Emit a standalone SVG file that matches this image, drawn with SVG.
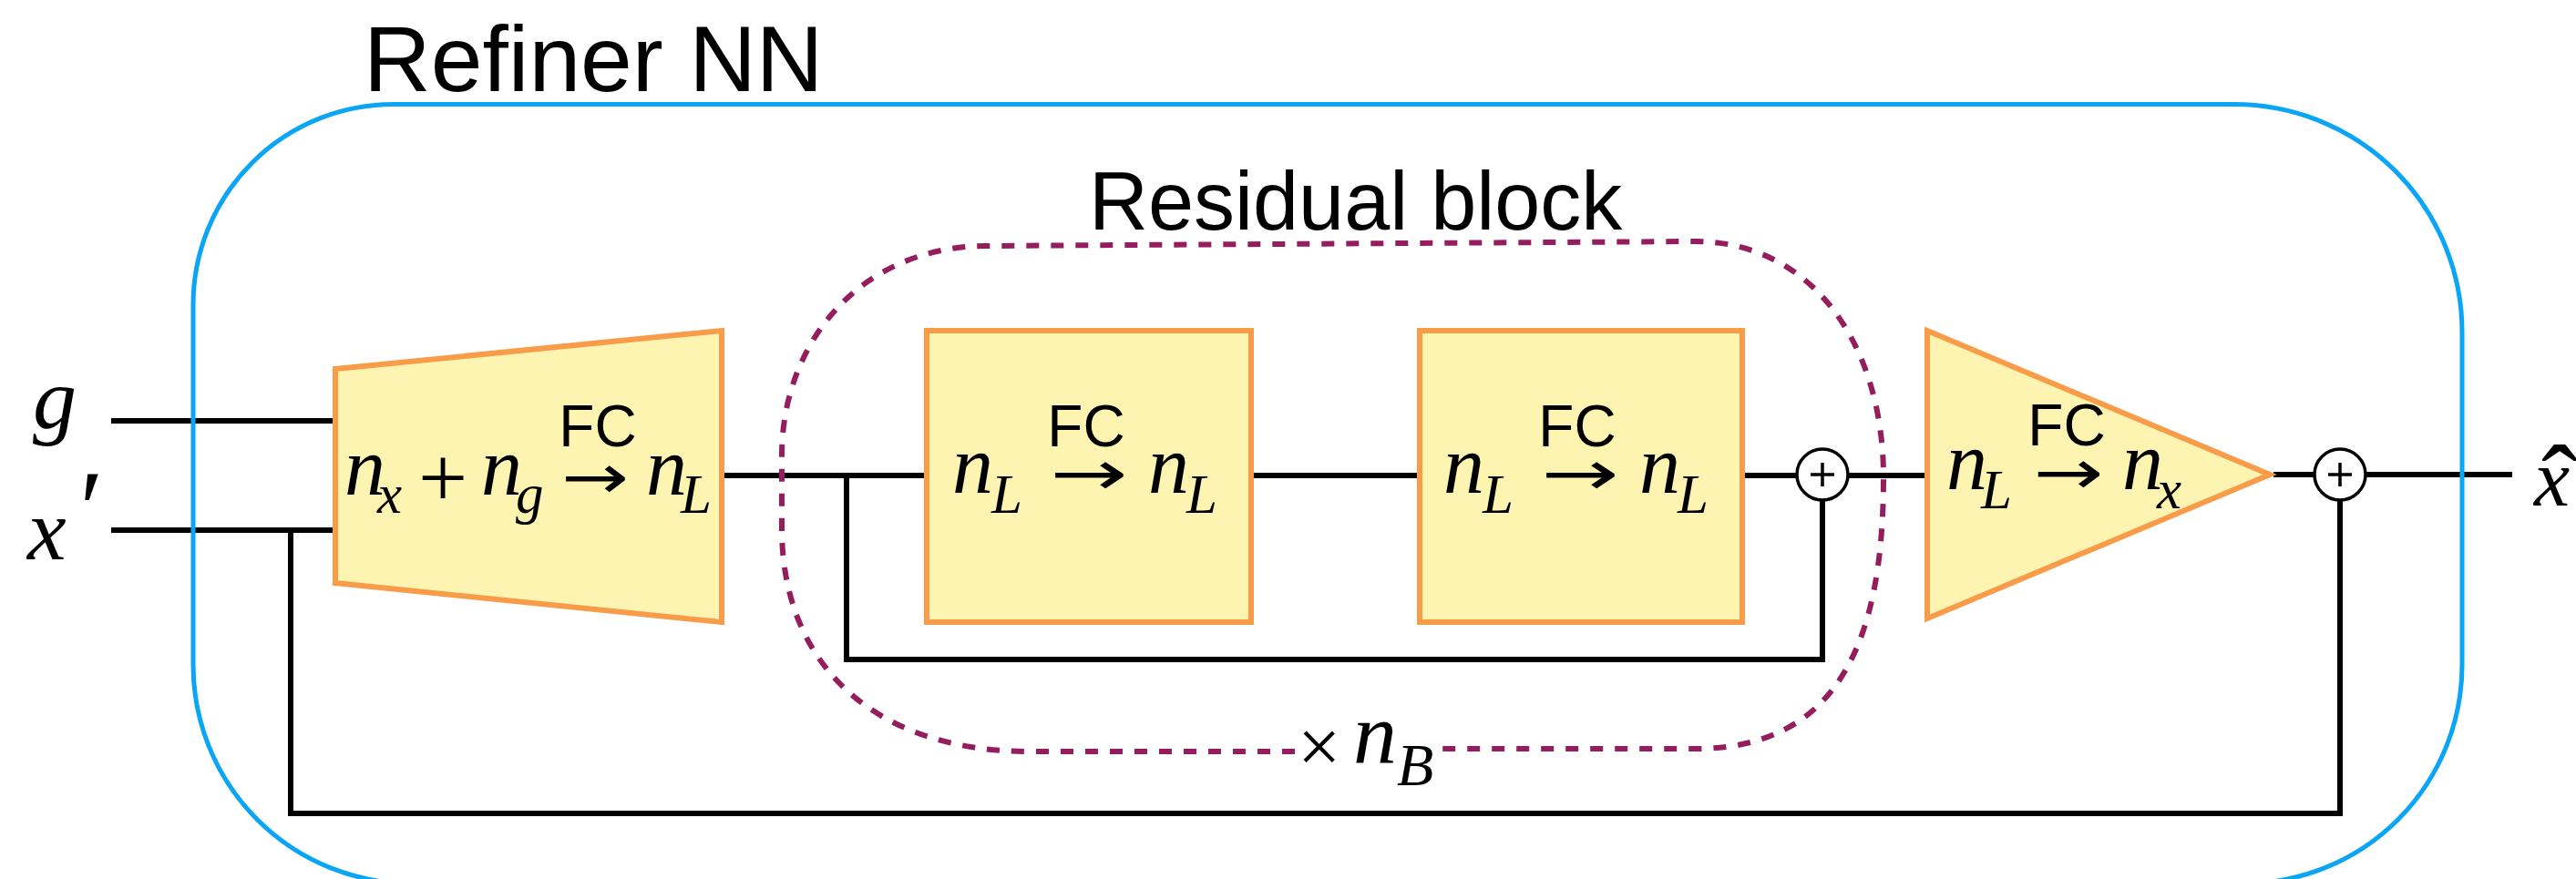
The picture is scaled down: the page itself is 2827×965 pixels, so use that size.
<svg xmlns="http://www.w3.org/2000/svg" width="2827" height="965" viewBox="0 0 2827 965">
<style>
.wire{fill:none;stroke:#000;stroke-width:6;stroke-linejoin:miter;stroke-linecap:butt}
.blk{fill:#FEF4B2;stroke:#F89C4A;stroke-width:6;stroke-linejoin:miter}
.sum{fill:#fff;stroke:#000;stroke-width:3.5}
.plus{stroke:#000;stroke-width:3.5}
.sans{font-family:"Liberation Sans",Arial,sans-serif;fill:#000}
.mi{font-family:"Liberation Serif","Times New Roman",serif;font-style:italic;fill:#000}
.up{font-family:"Liberation Serif","DejaVu Serif",serif;font-style:normal}
.fc{font-family:"Liberation Sans",Arial,sans-serif;font-style:normal;font-size:64px;text-anchor:middle}
.arr{font-family:"DejaVu Sans",sans-serif;font-size:68px;text-anchor:middle;fill:#000}
.m{font-size:90px}
.s{font-size:61px}
.dash{fill:none;stroke:#951C5D;stroke-width:6;stroke-dasharray:14 13}
</style>
<rect width="2827" height="965" fill="#fff"/>

<g id="connectors">
  <path class="wire" d="M122,462 H368"/>
  <path class="wire" d="M122,582 H368"/>
  <path class="wire" d="M319,582 V893 H2568 V549"/>
  <path class="wire" d="M792,522 H1016"/>
  <path class="wire" d="M929,522 V724 H2000 V549"/>
  <path class="wire" d="M1376,522 H1556"/>
  <path class="wire" d="M1915,522 H1972"/>
  <path class="wire" d="M2028,522 H2114"/>
  <path class="wire" d="M2495,521 H2540"/>
  <path class="wire" d="M2596,521 H2757"/>
</g>

<g id="fc-in">
  <polygon class="blk" points="368,405 792,363 792,683 368,640"/>
  <text class="mi"><tspan class="m" x="378" y="543">n</tspan><tspan class="s" x="414" y="563">x</tspan><tspan class="up" font-size="96" x="459" y="556">+</tspan><tspan class="m" x="528" y="543">n</tspan><tspan class="s" x="566" y="563">g</tspan><tspan class="fc" x="656" y="490">FC</tspan><tspan class="m" x="709" y="543">n</tspan><tspan class="s" x="747" y="563">L</tspan></text>
  <text class="arr" transform="translate(653,547) scale(1.3,1)">→</text>
</g>

<g id="fc-1">
  <rect class="blk" x="1017" y="363" width="356" height="320"/>
  <text class="mi"><tspan class="m" x="1045" y="541">n</tspan><tspan class="s" x="1088" y="563">L</tspan><tspan class="fc" x="1192" y="490">FC</tspan><tspan class="m" x="1260" y="541">n</tspan><tspan class="s" x="1302" y="563">L</tspan></text>
  <text class="arr" transform="translate(1195,543) scale(1.5,1)">→</text>
</g>

<g id="fc-2">
  <rect class="blk" x="1558" y="363" width="354" height="320"/>
  <text class="mi"><tspan class="m" x="1584" y="541">n</tspan><tspan class="s" x="1627" y="563">L</tspan><tspan class="fc" x="1731" y="490">FC</tspan><tspan class="m" x="1799" y="541">n</tspan><tspan class="s" x="1841" y="563">L</tspan></text>
  <text class="arr" transform="translate(1734,543) scale(1.5,1)">→</text>
</g>

<g id="sum-1">
  <circle class="sum" cx="2000" cy="521" r="28"/>
  <path class="plus" d="M1987,521 H2013 M2000,508 V534"/>
</g>

<g id="fc-out">
  <polygon class="blk" points="2115,363 2491,521 2115,679"/>
  <text class="mi"><tspan class="m" x="2136" y="537">n</tspan><tspan class="s" x="2174" y="558">L</tspan><tspan class="fc" x="2268" y="489">FC</tspan><tspan class="m" x="2329" y="537">n</tspan><tspan class="s" x="2367" y="558">x</tspan></text>
  <text class="arr" transform="translate(2270,542) scale(1.35,1)">→</text>
</g>

<g id="sum-2">
  <circle class="sum" cx="2568" cy="521" r="28"/>
  <path class="plus" d="M2555,521 H2581 M2568,508 V534"/>
</g>

<g id="residual-block">
  <path class="dash" d="M1421,825 H1130 C960,825 858,730 858,580 V500 C858,380 940,272 1080,270 L1860,265 C1990,265 2067,380 2067,524 C2067,700 2020,822 1860,822 H1577"/>
  <text class="sans" x="1195" y="252" font-size="90">Residual block</text>
  <text class="mi"><tspan class="up" font-size="84" x="1424" y="848">×</tspan><tspan font-size="96" x="1485" y="838">n</tspan><tspan font-size="66" x="1533" y="862">B</tspan></text>
</g>

<g id="refiner-nn">
  <path fill="none" stroke="#0AA6F5" stroke-width="5" d="M432,114.5 H2452 A250,250 0 0 1 2702,364.5 V730 A240,240 0 0 1 2462,970 H452 A240,240 0 0 1 212,730 V334.5 A220,220 0 0 1 432,114.5 Z"/>
  <text class="sans" x="399" y="100" font-size="102">Refiner NN</text>
</g>

<g id="input-g"><text class="mi" x="36" y="470" font-size="96">g</text></g>
<g id="input-x"><text class="mi" x="30" y="614" font-size="96">x<tspan font-size="120" x="80" y="600">′</tspan></text></g>
<g id="output-xhat"><text class="mi" x="2781" y="555" font-size="88">x<tspan class="up" font-size="120" x="2789" y="572">ˆ</tspan></text></g>
</svg>
